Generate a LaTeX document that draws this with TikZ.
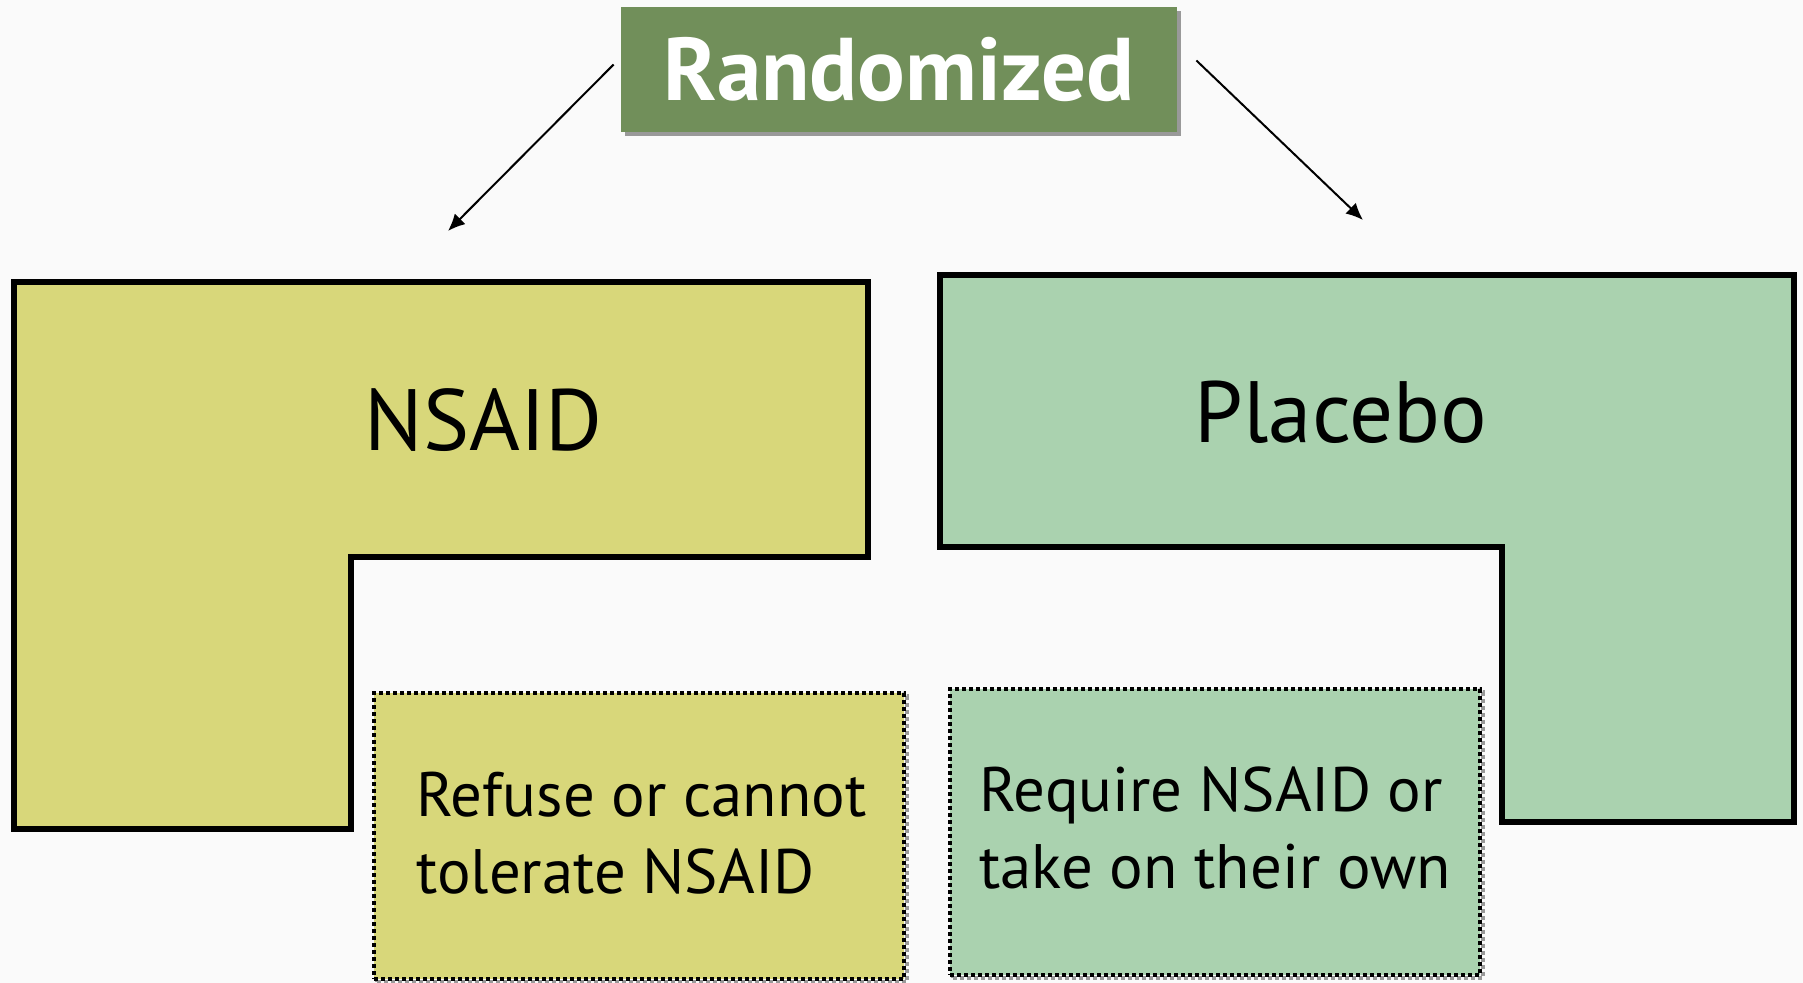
\documentclass[tikz,border=0pt]{standalone}
\usepackage{fontspec}
\setmainfont{PT Sans}
\usetikzlibrary{arrows.meta,shadows}
\definecolor{canvas}{HTML}{FAFAFA}
\definecolor{titlegreen}{HTML}{718F5A}
\definecolor{olive}{HTML}{D8D77A}
\definecolor{mint}{HTML}{AAD2AF}
\begin{document}
% one unit = one pixel, y grows downwards
\begin{tikzpicture}[x=0.5pt,y=-0.5pt,
  titlebox/.style={fill=titlegreen, text=white, inner sep=0pt,
    font=\bfseries\fontsize{44.5}{50}\selectfont,
    minimum width=278pt, minimum height=62.5pt,
    general shadow={shadow xshift=2pt, shadow yshift=-2pt, fill=black!40}},
  armshape/.style={draw=black, line width=2.6pt, line join=miter},
  armlabel/.style={font=\fontsize{43.5}{50}\selectfont, anchor=base, inner sep=0pt},
  subbox/.style={draw=black, line width=2pt, dash pattern=on 2pt off 1.5pt,
    minimum width=265pt, minimum height=143pt, inner sep=0pt,
    general shadow={shadow xshift=1.5pt, shadow yshift=-1.5pt, draw=black!40,
      line width=2pt, dash pattern=on 2pt off 1.5pt, fill=none}},
  subtext/.style={font=\fontsize{31.4}{38.5}\selectfont, align=left,
    anchor=base west, inner sep=0pt},
  flow/.style={draw=black, line width=1pt, -{Latex[length=8.5pt,width=7.5pt]}}
]
\fill[canvas] (0,0) rectangle (1803,983);
\useasboundingbox (0,0) rectangle (1803,983);

% randomisation header
\node[titlebox] (title) at (899,69.5) {Randomized};

% treatment arms
\path[armshape, fill=olive] (14,282) -- (868,282) -- (868,557) -- (351,557)
  -- (351,829) -- (14,829) -- cycle;
\path[armshape, fill=mint] (940,275) -- (1794,275) -- (1794,822) -- (1502,822)
  -- (1502,547) -- (940,547) -- cycle;
\node[armlabel] (nsaid) at (483.5,451) {NSAID};
\node[armlabel] (placebo) at (1341,443) {Placebo};

% sub-groups (the base anchor of a two-line node sits on its last line)
\node[subbox, fill=olive] (refuse) at (639,836) {};
\node[subbox, fill=mint] (require) at (1215,832) {};
\node[subtext] (refusetext) at (416,893) {Refuse or cannot\\tolerate NSAID};
\node[subtext] (requiretext) at (979,888) {Require NSAID or\\take on their own};

% allocation arrows
\coordinate (lstart) at ([xshift=-3.5pt,yshift=2.5pt]title.west);
\coordinate (lend) at (448,231);
\coordinate (rstart) at ([xshift=9.5pt,yshift=4.5pt]title.east);
\coordinate (rend) at (1363,220);
\draw[flow] (lstart) -- (lend);
\draw[flow] (rstart) -- (rend);
\end{tikzpicture}
\end{document}
